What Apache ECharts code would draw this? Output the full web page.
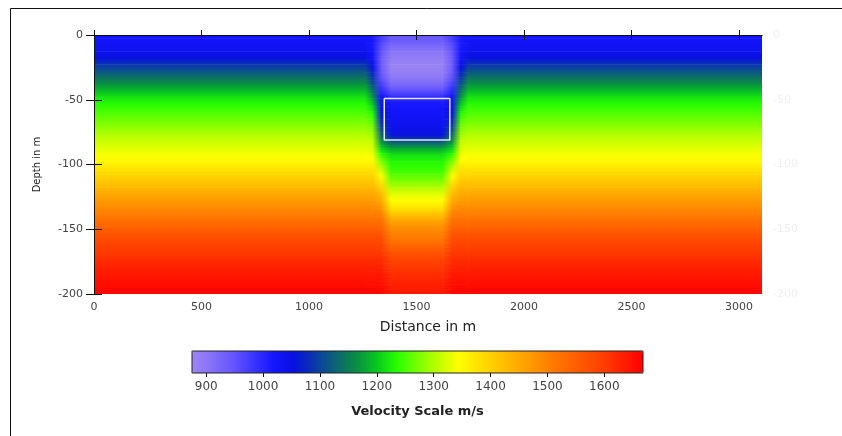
<!DOCTYPE html>
<html>
<head>
<meta charset="utf-8">
<script src="https://cdn.jsdelivr.net/npm/echarts@6/dist/echarts.min.js"></script>
<style>html,body{margin:0;padding:0;background:#fff;}#c{width:842px;height:436px;}</style>
</head>
<body>
<div id="c"></div>
<script>
// ---- data ----
// sample depths (m): centres of 5 m rows, top to bottom
var depths = [-2.5,-7.5,-12.5,-17.5,-22.5,-27.5,-32.5,-37.5,-42.5,-47.5,-52.5,-57.5,-62.5,-67.5,-72.5,-77.5,-82.5,-87.5,-92.5,-97.5,
  -102.5,-107.5,-112.5,-117.5,-122.5,-127.5,-132.5,-137.5,-142.5,-147.5,-152.5,-157.5,-162.5,-167.5,-172.5,-177.5,-182.5,-187.5,-192.5,-197.5];
var depthTop = 0, depthBottom = -200;
// sample distances (m) and the velocity profile found at each
var colX = [0,1260,1295,1335,1380,1620,1665,1705,1740,3107];
var colProfile = ['bg','bg','outer','inner','core','core','inner','outer','bg','bg'];
// velocity profiles (m/s), one value per sample depth
var bgVel = [1025,1030,1038,1055,1085,1112,1140,1165,1190,1215,1232,1246,1260,1273,1288,1302,1315,1327,1340,1352,
  1372,1390,1410,1430,1450,1468,1486,1503,1522,1540,1562,1578,1592,1604,1616,1626,1636,1645,1653,1660];
var outerVel = [1015,1015,1018,1028,1045,1065,1085,1110,1135,1165,1195,1220,1240,1258,1275,1292,1308,1322,1336,1350,
  1372,1390,1410,1430,1450,1468,1486,1503,1522,1540,1562,1578,1592,1604,1616,1626,1636,1645,1653,1660];
var innerVel = [975,960,948,940,938,942,952,970,995,1022,1040,1050,1062,1080,1105,1135,1170,1205,1240,1275,
  1305,1335,1365,1395,1425,1450,1475,1500,1522,1540,1562,1578,1592,1604,1616,1626,1636,1645,1653,1660];
var coreVel = [945,925,905,892,882,885,898,920,950,990,1015,1025,1028,1035,1045,1060,1120,1180,1215,1230,
  1240,1255,1275,1300,1325,1345,1370,1410,1450,1480,1500,1515,1540,1565,1585,1600,1612,1622,1632,1640];
// highlighted box (distance, depth corners)
var boxX = [1350,1655,1655,1350,1350];
var boxY = [-49,-49,-81,-81,-49];
// tick labels
var xTicks = [0,500,1000,1500,2000,2500,3000];
var scaleTicks = [900,1000,1100,1200,1300,1400,1500,1600];
var velMin = 875, velMax = 1668;
var xMax = 3107;
var palette = ['#9d86f2','#8470f8','#6655ff','#3a35ff','#1515ff','#0810e0','#0a3aa8','#0c6474','#0a8c44','#06c820',
  '#28ff00','#78ff00','#c0ff00','#ffff00','#ffe000','#ffc400','#ffa800','#ff8c00','#ff7000','#ff5800','#ff4000','#ff2000','#ff0000'];

var profiles = {bg: bgVel, outer: outerVel, inner: innerVel, core: coreVel};
// each cell joins two neighbouring samples in distance and depth:
// [xL, xR, yTop, yBottom, vTopLeft, vBottomLeft, vTopRight, vBottomRight]
var cells = [];
var n = depths.length;
for (var c = 0; c < colX.length - 1; c++) {
  var L = profiles[colProfile[c]], R = profiles[colProfile[c + 1]];
  cells.push([colX[c], colX[c + 1], depthTop, depths[0], L[0], L[0], R[0], R[0]]);
  for (var r = 0; r < n - 1; r++) {
    cells.push([colX[c], colX[c + 1], depths[r], depths[r + 1], L[r], L[r + 1], R[r], R[r + 1]]);
  }
  cells.push([colX[c], colX[c + 1], depths[n - 1], depthBottom, L[n - 1], L[n - 1], R[n - 1], R[n - 1]]);
}
var boxData = boxX.map(function (x, i) { return [x, boxY[i]]; });

function velColor(v) {
  return echarts.color.lerp((v - velMin) / (velMax - velMin), palette);
}
function plainNum(v) { return String(v); }

var FONT = 'DejaVu Sans';
var chart = echarts.init(document.getElementById('c'), null, {renderer: 'canvas'});
chart.setOption({
  animation: false,
  backgroundColor: '#fff',
  grid: [
    {left: 94, top: 35, width: 668, height: 259, containLabel: false},
    {left: 192, top: 351, width: 451, height: 22, show: true, borderColor: '#222', borderWidth: 1, backgroundColor: 'transparent', z: 10}
  ],
  xAxis: [
    {gridIndex: 0, type: 'value', position: 'bottom', min: 0, max: xMax, z: 10,
      axisLine: {show: true, lineStyle: {color: '#111', width: 1}},
      axisTick: {show: true, length: 5, customValues: xTicks, lineStyle: {color: '#111'}},
      axisLabel: {customValues: xTicks, formatter: plainNum, margin: 8, color: '#444', fontFamily: FONT, fontSize: 11},
      splitLine: {show: false},
      name: 'Distance in m', nameLocation: 'middle', nameGap: 26,
      nameTextStyle: {color: '#222', fontFamily: FONT, fontSize: 14}},
    {gridIndex: 0, type: 'value', position: 'top', min: 0, max: xMax, z: 10,
      axisLine: {show: true, lineStyle: {color: '#111', width: 1}},
      axisTick: {show: true, length: 5, customValues: xTicks, lineStyle: {color: '#111'}},
      axisLabel: {show: false}, splitLine: {show: false}},
    {gridIndex: 1, type: 'value', position: 'bottom', min: velMin, max: velMax,
      axisLine: {show: false},
      axisTick: {show: true, length: 4, customValues: scaleTicks, lineStyle: {color: '#111'}},
      axisLabel: {customValues: scaleTicks, formatter: plainNum, margin: 8, color: '#444', fontFamily: FONT, fontSize: 12},
      splitLine: {show: false},
      name: 'Velocity Scale m/s', nameLocation: 'middle', nameGap: 32,
      nameTextStyle: {color: '#222', fontFamily: FONT, fontSize: 13, fontWeight: 'bold'}}
  ],
  yAxis: [
    {gridIndex: 0, type: 'value', position: 'left', min: -200, max: 0, interval: 50, z: 10,
      axisLine: {show: true, lineStyle: {color: '#111', width: 1}},
      axisTick: {show: true, length: 8, lineStyle: {color: '#111'}},
      axisLabel: {margin: 11, formatter: plainNum, color: '#444', fontFamily: FONT, fontSize: 11},
      splitLine: {show: false},
      name: 'Depth in m', nameLocation: 'middle', nameGap: 52,
      nameTextStyle: {color: '#222', fontFamily: FONT, fontSize: 10}},
    {gridIndex: 0, type: 'value', position: 'right', min: -200, max: 0, interval: 50, z: 10,
      axisLine: {show: true, lineStyle: {color: '#111', width: 1}},
      axisTick: {show: true, length: 8, lineStyle: {color: '#111'}},
      axisLabel: {margin: 11, formatter: plainNum, color: '#efefef', fontFamily: FONT, fontSize: 11},
      splitLine: {show: false}},
    {gridIndex: 1, type: 'value', min: 0, max: 1, show: false}
  ],
  visualMap: {
    type: 'continuous', seriesIndex: 0, dimension: 4, min: velMin, max: velMax,
    orient: 'horizontal', left: 192, top: 351, itemWidth: 22, itemHeight: 451,
    padding: 0, calculable: false, realtime: false, text: null, showLabel: false,
    inRange: {color: palette}, hoverLink: false
  },
  graphic: [
    {type: 'polyline', shape: {points: [[10.5, 436], [10.5, 8.5], [842, 8.5]]}, style: {stroke: '#111', lineWidth: 1, fill: null}, silent: true}
  ],
  series: [
    {type: 'custom', xAxisIndex: 0, yAxisIndex: 0, clip: true, silent: true,
      encode: {x: [0, 1], y: [2, 3]},
      data: cells,
      renderItem: function (params, api) {
        var p0 = api.coord([api.value(0), api.value(2)]);
        var p1 = api.coord([api.value(1), api.value(3)]);
        var tl = api.value(4), bl = api.value(5), tr = api.value(6), br = api.value(7);
        var w = p1[0] - p0[0] + 0.6, h = p1[1] - p0[1];
        if (tl === tr && bl === br) {
          return {type: 'rect',
            shape: {x: p0[0], y: p0[1], width: w, height: h + 0.6},
            style: {stroke: null, fill: new echarts.graphic.LinearGradient(0, 0, 0, 1, [
              {offset: 0, color: velColor(tl)}, {offset: 1, color: velColor(bl)}])}};
        }
        // shade between the four corner samples in thin strips
        var k = 4, children = [];
        for (var s = 0; s < k; s++) {
          var t = (s + 0.5) / k;
          var vL = tl + (bl - tl) * t, vR = tr + (br - tr) * t;
          children.push({type: 'rect',
            shape: {x: p0[0], y: p0[1] + h * s / k, width: w, height: h / k + 0.6},
            style: {stroke: null, fill: new echarts.graphic.LinearGradient(0, 0, 1, 0, [
              {offset: 0, color: velColor(vL)}, {offset: 1, color: velColor(vR)}])}});
        }
        return {type: 'group', children: children};
      }},
    {type: 'line', xAxisIndex: 0, yAxisIndex: 0, data: boxData, symbol: 'none', silent: true, z: 6,
      lineStyle: {color: '#e8e8e8', width: 1.5}}
  ]
});
</script>
</body>
</html>
